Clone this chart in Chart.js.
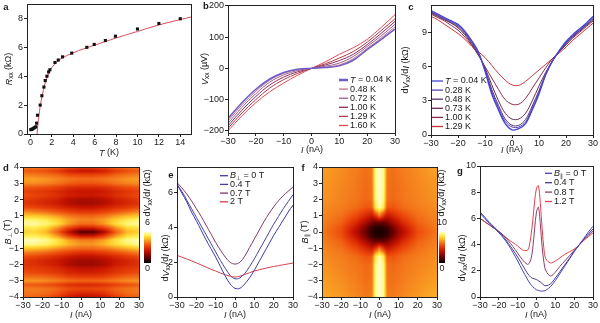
<!DOCTYPE html>
<html lang="en">
<head>
<meta charset="utf-8" />
<title>Transport panels a-g</title>
<script src="https://cdn.jsdelivr.net/npm/chart.js@4.4.1/dist/chart.umd.min.js"></script>
<style>
  body { margin: 0; background: #fff; }
  #page { position: relative; width: 600px; height: 323px; overflow: hidden; }
  #page canvas { position: absolute; }
</style>
</head>
<body>
<div id="page">
  <canvas id="ca"></canvas>
  <canvas id="cb"></canvas>
  <canvas id="cc"></canvas>
  <canvas id="cd"></canvas>
  <canvas id="ce"></canvas>
  <canvas id="cf"></canvas>
  <canvas id="cg"></canvas>
</div>
<script>
const FONT = '"Liberation Sans", Arial, Helvetica, sans-serif';

// ---- a: R_xx vs T ----
const aT = [0.03, 0.1, 0.2, 0.3, 0.4, 0.5, 0.57, 0.66, 0.91, 1.07, 1.26, 1.38, 1.54, 1.7, 1.82, 2.29, 2.6, 3.0, 3.86, 5.27, 5.96, 7.0, 7.94, 10, 12, 14];
const aR = [0.3, 0.32, 0.35, 0.4, 0.45, 0.5, 0.75, 1.3, 2.0, 2.65, 3.25, 3.7, 4.0, 4.3, 4.45, 4.95, 5.12, 5.34, 5.6, 6.0, 6.2, 6.47, 6.77, 7.27, 7.65, 7.98];
const aFitT = [0.62, 0.7, 0.8, 0.9, 1.0, 1.2, 1.4, 1.6, 1.8, 2.0, 2.5, 3, 4, 5, 6, 7, 8, 10, 12, 15];
const aFitR = [0, 0.7, 1.3, 1.85, 2.3, 3.0, 3.6, 4.0, 4.35, 4.6, 5.0, 5.28, 5.62, 5.9, 6.15, 6.4, 6.65, 7.1, 7.55, 8.1];
const aXTicks = [0, 2, 4, 6, 8, 10, 12, 14];
const aYTicks = [0, 2, 4, 6, 8];

// ---- b: V_xx vs I ----
const bTemps = ['0.04', '0.48', '0.72', '1.00', '1.29', '1.60'];
const bI = [-30, -25, -20, -15, -10, -5, 0, 5, 10, 15, 20, 25, 30];
const bV = [
  [-160, -110, -67, -34, -13, -3, 0, 3, 8, 26, 60, 92, 126],
  [-168, -117, -73, -38, -16, -4, 0, 4, 11, 31, 64, 97, 133],
  [-176, -125, -81, -44, -21, -7, 0, 7, 17, 38, 70, 104, 141],
  [-184, -134, -90, -53, -28, -11, 0, 11, 25, 45, 76, 112, 150],
  [-192, -143, -100, -63, -36, -16, 0, 15, 33, 54, 84, 121, 159],
  [-200, -152, -110, -75, -47, -22, 0, 21, 45, 66, 93, 131, 172]
];
const bYTicks = [-200, -100, 0, 100, 200];
const iTicks = [-30, -20, -10, 0, 10, 20, 30];

// ---- c: dV/dI vs I at several T ----
const cTemps = ['0.04', '0.28', '0.48', '0.73', '1.00', '1.29'];
const cI = [-30, -27.5, -25, -22.5, -20, -17.5, -15, -12.5, -10, -7.5, -5, -2.5, 0, 2.5, 5, 7.5, 10, 12.5, 15, 17.5, 20, 22.5, 25, 27.5, 30];
const cR = [
  [10.9, 10.6, 10.3, 10.0, 9.7, 9.1, 8.3, 7.3, 5.6, 3.6, 2.2, 1.0, 0.45, 0.55, 1.0, 2.2, 3.6, 5.3, 6.5, 7.4, 8.2, 8.8, 9.3, 9.8, 10.4],
  [10.8, 10.5, 10.2, 9.9, 9.6, 9.0, 8.2, 7.2, 5.7, 3.8, 2.4, 1.2, 0.7, 0.7, 1.15, 2.35, 3.75, 5.3, 6.5, 7.4, 8.1, 8.7, 9.2, 9.7, 10.3],
  [10.75, 10.45, 10.15, 9.85, 9.5, 8.9, 8.1, 7.15, 5.8, 4.0, 2.6, 1.4, 0.85, 0.85, 1.35, 2.55, 3.9, 5.35, 6.5, 7.35, 8.05, 8.65, 9.15, 9.65, 10.2],
  [10.7, 10.4, 10.1, 9.8, 9.4, 8.8, 8.0, 7.1, 5.9, 4.4, 3.0, 1.9, 1.4, 1.4, 1.9, 3.0, 4.3, 5.5, 6.5, 7.3, 8.0, 8.6, 9.1, 9.6, 10.1],
  [10.6, 10.3, 10.0, 9.6, 9.2, 8.6, 7.9, 7.0, 6.0, 5.0, 4.0, 3.1, 2.7, 2.7, 3.2, 4.1, 5.0, 5.9, 6.7, 7.3, 7.9, 8.5, 9.0, 9.5, 10.0],
  [10.4, 10.1, 9.7, 9.3, 8.9, 8.4, 7.8, 7.3, 6.8, 6.1, 5.4, 4.8, 4.4, 4.35, 4.7, 5.2, 5.7, 6.2, 6.7, 7.2, 7.7, 8.3, 8.8, 9.3, 9.8]
];
const cYTicks = [0, 3, 6, 9];

// ---- d: map dV/dI (I, B_perp) ----
const dI = [-30, -24, -18, -12, -6, 0, 6, 12, 18, 24, 30];
const dB = [4, 3.75, 3.5, 3.25, 3, 2.75, 2.5, 2.25, 2, 1.75, 1.5, 1.25, 1, 0.75, 0.5, 0.25, 0, -0.25, -0.5, -0.75, -1, -1.25, -1.5, -1.75, -2, -2.25, -2.5, -2.75, -3, -3.25, -3.5, -3.75, -4];
const dR = [
  [4.0, 4.0, 3.9, 3.7, 3.4, 3.2, 3.2, 3.4, 3.7, 3.9, 4.0],
  [3.6, 3.5, 3.4, 3.1, 2.6, 2.4, 2.4, 2.6, 3.1, 3.4, 3.6],
  [4.1, 4.0, 3.9, 3.7, 3.4, 3.3, 3.3, 3.4, 3.7, 3.9, 4.1],
  [4.4, 4.4, 4.3, 4.1, 3.9, 3.8, 3.8, 3.9, 4.1, 4.3, 4.4],
  [4.2, 4.2, 4.1, 3.9, 3.6, 3.5, 3.5, 3.6, 3.9, 4.1, 4.2],
  [3.6, 3.5, 3.4, 3.2, 2.9, 2.8, 2.8, 2.9, 3.2, 3.4, 3.6],
  [3.2, 3.1, 3.0, 2.8, 2.5, 2.4, 2.4, 2.5, 2.8, 3.0, 3.2],
  [3.4, 3.3, 3.1, 2.9, 2.6, 2.5, 2.5, 2.6, 2.9, 3.1, 3.4],
  [3.1, 3.0, 2.8, 2.6, 2.2, 2.0, 2.0, 2.2, 2.6, 2.8, 3.1],
  [3.0, 2.9, 2.7, 2.5, 2.1, 1.9, 1.9, 2.1, 2.5, 2.7, 3.0],
  [3.4, 3.3, 3.1, 2.9, 2.6, 2.4, 2.4, 2.6, 2.9, 3.1, 3.4],
  [4.1, 4.0, 3.8, 3.5, 3.2, 3.0, 3.0, 3.2, 3.5, 3.8, 4.1],
  [4.8, 4.8, 4.6, 4.3, 3.9, 3.7, 3.7, 3.9, 4.3, 4.6, 4.8],
  [5.5, 5.5, 5.3, 4.9, 4.4, 4.1, 4.1, 4.4, 4.9, 5.3, 5.5],
  [5.8, 5.8, 5.6, 5.1, 4.3, 3.8, 3.8, 4.3, 5.1, 5.6, 5.8],
  [5.2, 5.3, 5.0, 4.2, 3.2, 2.6, 2.6, 3.2, 4.2, 5.0, 5.2],
  [4.9, 5.0, 4.6, 3.6, 2.2, 0.9, 0.9, 2.0, 3.6, 4.6, 4.9],
  [5.3, 5.4, 5.1, 4.3, 3.2, 2.5, 2.5, 3.2, 4.3, 5.1, 5.3],
  [5.9, 5.9, 5.7, 5.2, 4.4, 4.0, 4.0, 4.4, 5.2, 5.7, 5.9],
  [5.7, 5.7, 5.5, 5.1, 4.6, 4.3, 4.3, 4.6, 5.1, 5.5, 5.7],
  [4.9, 4.8, 4.6, 4.3, 4.0, 3.8, 3.8, 4.0, 4.3, 4.6, 4.9],
  [4.1, 4.0, 3.8, 3.5, 3.2, 3.0, 3.0, 3.2, 3.5, 3.8, 4.1],
  [3.4, 3.3, 3.1, 2.8, 2.5, 2.3, 2.3, 2.5, 2.8, 3.1, 3.4],
  [3.0, 2.9, 2.7, 2.5, 2.1, 1.9, 1.9, 2.1, 2.5, 2.7, 3.0],
  [3.0, 2.9, 2.7, 2.5, 2.0, 1.8, 1.8, 2.0, 2.5, 2.7, 3.0],
  [3.2, 3.1, 3.0, 2.8, 2.5, 2.3, 2.3, 2.5, 2.8, 3.0, 3.2],
  [3.4, 3.3, 3.2, 3.0, 2.7, 2.6, 2.6, 2.7, 3.0, 3.2, 3.4],
  [3.8, 3.8, 3.7, 3.5, 3.2, 3.1, 3.1, 3.2, 3.5, 3.7, 3.8],
  [4.3, 4.3, 4.2, 4.0, 3.8, 3.7, 3.7, 3.8, 4.0, 4.2, 4.3],
  [3.6, 3.5, 3.4, 3.2, 2.9, 2.8, 2.8, 2.9, 3.2, 3.4, 3.6],
  [4.0, 4.0, 3.9, 3.7, 3.4, 3.3, 3.3, 3.4, 3.7, 3.9, 4.0],
  [3.9, 3.9, 3.8, 3.5, 3.0, 2.8, 2.8, 3.0, 3.5, 3.8, 3.9],
  [3.7, 3.7, 3.5, 3.1, 2.5, 2.3, 2.3, 2.5, 3.1, 3.5, 3.7]
];
const dBarTicks = [0, 6];
const fieldTicks = [-4, -3, -2, -1, 0, 1, 2, 3, 4];

// ---- e: dV/dI vs I at several B_perp ----
const eFields = ['0', '0.4', '0.7', '2'];
const eI = [-30, -27.5, -25, -22.5, -20, -17.5, -15, -12.5, -10, -7.5, -5, -2.5, 0, 2.5, 5, 7.5, 10, 12.5, 15, 17.5, 20, 22.5, 25, 27.5, 30];
const eR = [
  [6.5, 6.0, 5.5, 4.9, 4.4, 3.85, 3.3, 2.8, 2.3, 1.75, 1.2, 0.75, 0.5, 0.5, 0.75, 1.1, 1.55, 2.05, 2.55, 3.05, 3.55, 4.0, 4.45, 4.9, 5.3],
  [6.5, 6.1, 5.6, 5.1, 4.6, 4.1, 3.6, 3.1, 2.6, 2.1, 1.65, 1.25, 1.05, 1.1, 1.35, 1.75, 2.2, 2.7, 3.2, 3.7, 4.2, 4.65, 5.1, 5.5, 5.9],
  [6.6, 6.3, 5.95, 5.55, 5.1, 4.65, 4.15, 3.65, 3.15, 2.7, 2.3, 2.0, 1.9, 2.0, 2.35, 2.85, 3.35, 3.85, 4.35, 4.8, 5.2, 5.55, 5.85, 6.1, 6.35],
  [2.4, 2.3, 2.2, 2.08, 1.97, 1.85, 1.73, 1.6, 1.5, 1.38, 1.28, 1.2, 1.15, 1.2, 1.3, 1.4, 1.5, 1.57, 1.64, 1.7, 1.76, 1.81, 1.86, 1.91, 1.96]
];
const eYTicks = [0, 2, 4, 6];

// ---- f: map dV/dI (I, B_par) ----
const fI = [-30, -20, -12, -7, -4, -2, 0, 2, 4, 7, 12, 20, 30];
const fB = [4, 3, 2, 1.5, 1, 0.6, 0.3, 0, -0.3, -0.6, -1, -1.5, -2, -3, -4];
const fR = [
  [7.3, 7.0, 6.7, 6.4, 6.6, 9.6, 10, 9.6, 6.6, 6.4, 6.7, 7.0, 7.4],
  [7.2, 6.9, 6.6, 6.3, 6.5, 9.6, 10, 9.6, 6.5, 6.3, 6.6, 6.9, 7.2],
  [7.1, 6.8, 6.5, 6.2, 6.4, 9.4, 10, 9.4, 6.4, 6.2, 6.5, 6.8, 7.1],
  [7.0, 6.7, 6.3, 5.8, 5.9, 8.8, 9.8, 8.8, 5.9, 5.8, 6.3, 6.7, 7.0],
  [6.9, 6.4, 5.5, 4.6, 4.0, 5.0, 6.5, 5.0, 4.0, 4.6, 5.5, 6.4, 6.9],
  [6.8, 6.1, 4.7, 3.3, 2.3, 2.0, 2.2, 2.0, 2.3, 3.3, 4.7, 6.1, 6.8],
  [6.7, 5.8, 4.0, 2.3, 1.2, 0.8, 0.7, 0.8, 1.2, 2.3, 4.0, 5.8, 6.7],
  [6.6, 5.6, 3.6, 1.8, 0.8, 0.5, 0.4, 0.5, 0.8, 1.8, 3.6, 5.6, 6.6],
  [6.7, 5.8, 4.0, 2.3, 1.2, 0.8, 0.7, 0.8, 1.2, 2.3, 4.0, 5.8, 6.7],
  [6.8, 6.1, 4.7, 3.3, 2.3, 2.0, 2.2, 2.0, 2.3, 3.3, 4.7, 6.1, 6.8],
  [6.9, 6.4, 5.5, 4.6, 4.0, 5.0, 6.5, 5.0, 4.0, 4.6, 5.5, 6.4, 6.9],
  [7.0, 6.7, 6.3, 5.8, 5.9, 8.8, 9.8, 8.8, 5.9, 5.8, 6.3, 6.7, 7.0],
  [7.1, 6.8, 6.5, 6.2, 6.4, 9.4, 10, 9.4, 6.4, 6.2, 6.5, 6.8, 7.1],
  [7.3, 7.0, 6.7, 6.4, 6.5, 9.6, 10, 9.6, 6.5, 6.4, 6.7, 7.0, 7.3],
  [7.5, 7.2, 6.9, 6.6, 6.7, 9.6, 10, 9.6, 6.7, 6.6, 6.9, 7.2, 7.6]
];
const fBarTicks = [0, 10];

// ---- g: dV/dI vs I at several B_par ----
const gFields = ['0', '0.4', '0.8', '1.2'];
const gI = [-30, -27.5, -25, -22.5, -20, -17.5, -15, -12.5, -10, -7.5, -5, -4, -3, -2, -1, 0, 1, 2, 3, 4, 5, 7.5, 10, 12.5, 15, 17.5, 20, 22.5, 25, 27.5, 30];
const gR = [
  [6.4, 6.0, 5.6, 5.25, 4.9, 4.5, 4.0, 3.4, 2.75, 2.05, 1.4, 1.15, 0.95, 0.8, 0.65, 0.55, 0.5, 0.45, 0.45, 0.47, 0.52, 0.8, 1.25, 1.8, 2.35, 2.9, 3.45, 3.95, 4.45, 4.95, 5.4],
  [6.5, 6.1, 5.7, 5.35, 5.0, 4.6, 4.1, 3.6, 3.05, 2.45, 1.85, 1.65, 1.5, 1.42, 1.38, 1.33, 1.25, 1.15, 1.02, 0.9, 0.85, 1.0, 1.45, 1.95, 2.45, 2.95, 3.5, 3.95, 4.4, 4.8, 5.2],
  [6.0, 5.75, 5.5, 5.25, 5.0, 4.7, 4.3, 3.85, 3.35, 2.85, 2.5, 2.55, 2.85, 3.7, 5.2, 6.5, 6.85, 5.6, 3.8, 2.6, 2.0, 1.6, 1.9, 2.35, 2.75, 3.15, 3.55, 3.95, 4.35, 4.7, 5.05],
  [6.0, 5.75, 5.5, 5.25, 5.0, 4.7, 4.4, 4.15, 3.9, 3.6, 3.55, 3.8, 4.6, 5.8, 7.3, 8.3, 8.5, 7.2, 5.2, 3.6, 2.9, 2.6, 2.75, 3.0, 3.25, 3.45, 3.65, 3.95, 4.3, 4.6, 4.9]
];
const gYTicks = [0, 2, 4, 6, 8, 10];

// colour map for both maps (fraction of full scale -> rgb)
const heatStops = [[0, [0, 0, 0]], [0.2, [110, 0, 0]], [0.4, [200, 20, 0]], [0.55, [235, 70, 10]], [0.68, [245, 130, 30]], [0.8, [255, 200, 40]], [0.9, [255, 240, 90]], [1, [255, 255, 200]]];

function cmap(f) {
  f = Math.max(0, Math.min(1, f));
  for (let k = 0; k < heatStops.length - 1; k++) {
    const [f0, c0] = heatStops[k], [f1, c1] = heatStops[k + 1];
    if (f <= f1) {
      const t = (f - f0) / (f1 - f0);
      return c0.map((v, n) => Math.round(v + (c1[n] - v) * t));
    }
  }
  return heatStops[heatStops.length - 1][1];
}

function seg(arr, v) {
  for (let i = 0; i < arr.length - 1; i++) {
    const a = arr[i], b = arr[i + 1];
    if ((v - a) * (v - b) <= 0) return [i, (v - a) / (b - a)];
  }
  return Math.abs(v - arr[0]) < Math.abs(v - arr[arr.length - 1]) ? [0, 0] : [arr.length - 2, 1];
}

function bilerp(cols, rows, z, x, y) {
  const [i, tx] = seg(cols, x), [j, ty] = seg(rows, y);
  const top = z[j][i] * (1 - tx) + z[j][i + 1] * tx;
  const bot = z[j + 1][i] * (1 - tx) + z[j + 1][i + 1] * tx;
  return top * (1 - ty) + bot * ty;
}

// text with italic ('i'), subscript ('s') and bold ('b') pieces
function drawRich(ctx, parts, x, y, size, rot, align) {
  ctx.save();
  ctx.translate(x, y);
  if (rot) ctx.rotate(rot);
  const fnt = f => (f.includes('b') ? 'bold ' : '') + (f.includes('i') ? 'italic ' : '') + (f.includes('s') ? size * 0.72 : size) + 'px ' + FONT;
  let w = 0;
  parts.forEach(([t, f = '']) => { ctx.font = fnt(f); w += ctx.measureText(t).width; });
  let cx = align === 'left' ? 0 : -w / 2;
  ctx.textBaseline = 'middle';
  ctx.textAlign = 'left';
  ctx.fillStyle = '#1a1a1a';
  parts.forEach(([t, f = '']) => {
    ctx.font = fnt(f);
    ctx.fillText(t, cx, f.includes('s') ? size * 0.3 : 0);
    cx += ctx.measureText(t).width;
  });
  ctx.restore();
}

const panels = {};

const decoPlugin = {
  id: 'deco',
  afterDraw(chart) {
    const p = panels[chart.canvas.id];
    const { ctx, chartArea: ca } = chart;
    ctx.save();
    ctx.strokeStyle = '#222';
    ctx.lineWidth = 1;
    const l = Math.round(ca.left) + 0.5, t = Math.round(ca.top) + 0.5;
    ctx.strokeRect(l, t, Math.round(ca.right) - Math.round(ca.left), Math.round(ca.bottom) - Math.round(ca.top));
    if (p.legend) {
      const L = p.legend;
      chart.data.datasets.forEach((ds, k) => {
        const x = L.x - p.ox, y = L.y + k * L.dy - p.oy;
        ctx.strokeStyle = ds.borderColor;
        ctx.lineWidth = k === 0 && L.w0 ? L.w0 : 1.3;
        ctx.beginPath();
        ctx.moveTo(x, y);
        ctx.lineTo(x + L.len, y);
        ctx.stroke();
        drawRich(ctx, L.names[k], x + L.len + 2, y, 9, 0, 'left');
      });
    }
    (p.texts || []).forEach(tx => drawRich(ctx, tx.p, tx.x - p.ox, tx.y - p.oy, tx.s || 9, tx.r || 0));
    ctx.restore();
  }
};

const heatPlugin = {
  id: 'heat',
  beforeDatasetsDraw(chart) {
    const h = panels[chart.canvas.id].heat;
    const { ctx, chartArea: ca, scales } = chart;
    const x0 = Math.round(ca.left), y0 = Math.round(ca.top);
    const w = Math.round(ca.right) - x0, ht = Math.round(ca.bottom) - y0;
    const off = document.createElement('canvas');
    off.width = w; off.height = ht;
    const octx = off.getContext('2d');
    const img = octx.createImageData(w, ht);
    for (let j = 0; j < ht; j++) {
      const b = scales.y.getValueForPixel(y0 + j + 0.5);
      for (let i = 0; i < w; i++) {
        const c = cmap(bilerp(h.cols, h.rows, h.z, scales.x.getValueForPixel(x0 + i + 0.5), b) / h.ticks[1]);
        const k = (j * w + i) * 4;
        img.data[k] = c[0]; img.data[k + 1] = c[1]; img.data[k + 2] = c[2]; img.data[k + 3] = 255;
      }
    }
    octx.putImageData(img, 0, 0);
    ctx.drawImage(off, x0, y0);
  },
  afterDraw(chart) {
    const p = panels[chart.canvas.id], h = p.heat;
    const ctx = chart.ctx;
    const [bx, by, bw, bh] = h.bar;
    const x = bx - p.ox, y = by - p.oy;
    const g = ctx.createLinearGradient(0, y + bh, 0, y);
    heatStops.forEach(([f, c]) => g.addColorStop(f, 'rgb(' + c.join(',') + ')'));
    ctx.fillStyle = g;
    ctx.fillRect(x, y, bw, bh);
    drawRich(ctx, [[String(h.ticks[1])]], x + bw / 2, y - 9, 9);
    drawRich(ctx, [[String(h.ticks[0])]], x + bw / 2, y + bh + 6, 9);
    drawRich(ctx, dvdi, x + bw / 2, y - 39, 9, -Math.PI / 2);
  }
};

const dvdi = [['d'], ['V', 'i'], ['xx', 's'], ['/d'], ['I', 'i'], [' (k\u03a9)']];
const curAxis = [['I', 'i'], [' (nA)']];

function line(xs, ys, color, w) {
  return {
    data: xs.map((x, i) => ({ x, y: ys[i] })),
    showLine: true, borderColor: color, backgroundColor: color,
    borderWidth: w || 1, pointRadius: 0, tension: 0.35
  };
}

function makePanel(id, box, area, spec) {
  const cv = document.getElementById(id);
  cv.width = box[2]; cv.height = box[3];
  cv.style.left = box[0] + 'px'; cv.style.top = box[1] + 'px';
  panels[id] = Object.assign({ ox: box[0], oy: box[1] }, spec);
  const padL = area[0] - box[0], padT = area[1] - box[1];
  const padR = box[0] + box[2] - area[2], padB = box[1] + box[3] - area[3];
  const axis = (a, isX) => ({
    type: 'linear', min: a.min, max: a.max,
    border: { color: '#222', width: 1 },
    grid: { drawOnChartArea: false, tickLength: 3, color: '#222' },
    ticks: {
      font: { size: 9, family: FONT }, color: '#1a1a1a', padding: isX ? 0 : 1,
      maxRotation: 0, autoSkip: false,
      callback: v => String(v).replace('-', '\u2212')
    },
    afterBuildTicks: s => { s.ticks = a.ticks.map(v => ({ value: v })); },
    afterFit: s => {
      if (isX) s.height = padB; else s.width = padL;
      s.paddingLeft = s.paddingRight = s.paddingTop = s.paddingBottom = 0;
    }
  });
  return new Chart(cv, {
    type: 'scatter',
    data: { datasets: spec.datasets || [] },
    options: {
      responsive: false, animation: false, events: [],
      layout: { padding: { left: 0, top: padT, right: padR, bottom: 0 } },
      scales: { x: axis(spec.x, true), y: axis(spec.y, false) },
      plugins: { legend: { display: false }, tooltip: { enabled: false } }
    },
    plugins: spec.heat ? [heatPlugin, decoPlugin] : [decoPlugin]
  });
}

const tempNames = ts => ts.map((t, k) => k === 0 ? [['T', 'i'], [' = ' + t + ' K']] : [[t + ' K']]);
const fieldNames = (fs, sym) => fs.map((f, k) => k === 0 ? [['B', 'i'], [sym, 's'], [' = ' + f + ' T']] : [[f + ' T']]);

// a
makePanel('ca', [0, 0, 198, 160], [27, 4, 191, 134], {
  x: { min: -0.32, max: 15, ticks: aXTicks },
  y: { min: 0, max: 9, ticks: aYTicks },
  datasets: [
    { data: aT.map((x, i) => ({ x, y: aR[i] })), pointStyle: 'rect', pointRadius: 2.2, backgroundColor: '#111', borderColor: '#111', borderWidth: 0 },
    line(aFitT, aFitR, '#d9505e', 1)
  ],
  texts: [
    { p: [['a', 'b']], x: 6, y: 7, s: 9.5 },
    { p: [['R', 'i'], ['xx', 's'], [' (k\u03a9)']], x: 9, y: 69, r: -Math.PI / 2 },
    { p: [['T', 'i'], [' (K)']], x: 109, y: 153 }
  ]
});

// b
const bColors = ['#6e5cc8', '#c46e8e', '#9c5e8e', '#88305a', '#b03a4c', '#dc4a55'];
makePanel('cb', [198, 0, 202, 160], [228, 5, 395, 133], {
  x: { min: -30, max: 30, ticks: iTicks },
  y: { min: -207, max: 203, ticks: bYTicks },
  datasets: bV.map((v, k) => line(bI, v, bColors[k], k === 0 ? 1.5 : 1)),
  legend: { x: 339, y: 80, dy: 9.1, len: 9, w0: 2.5, names: tempNames(bTemps) },
  texts: [
    { p: [['b', 'b']], x: 206, y: 6, s: 9.5 },
    { p: [['V', 'i'], ['xx', 's'], [' (\u00b5V)']], x: 205, y: 69, r: -Math.PI / 2 },
    { p: curAxis, x: 312, y: 150 }
  ]
});

// c
const cColors = ['#4646d2', '#5a44b4', '#583672', '#6a2c58', '#8c2a44', '#c8303e'];
makePanel('cc', [400, 0, 200, 160], [431, 5, 593, 135], {
  x: { min: -30, max: 30, ticks: iTicks },
  y: { min: 0, max: 11.4, ticks: cYTicks },
  datasets: cR.map((v, k) => line(cI, v, cColors[k], k === 0 ? 1.4 : 1)),
  legend: { x: 432, y: 81, dy: 9.1, len: 11, names: tempNames(cTemps) },
  texts: [
    { p: [['c', 'b']], x: 411, y: 7, s: 9.5 },
    { p: dvdi, x: 406, y: 70, r: -Math.PI / 2 },
    { p: curAxis, x: 512, y: 150 }
  ]
});

// d
makePanel('cd', [0, 160, 160, 163], [23, 167, 139, 297], {
  x: { min: -30, max: 30, ticks: iTicks },
  y: { min: -4, max: 4, ticks: fieldTicks },
  heat: { cols: dI, rows: dB, z: dR, ticks: dBarTicks, bar: [144, 232, 7, 31] },
  texts: [
    { p: [['d', 'b']], x: 6, y: 168, s: 9.5 },
    { p: [['B', 'i'], ['\u22a5', 's'], [' (T)']], x: 8, y: 232, r: -Math.PI / 2 },
    { p: curAxis, x: 81, y: 315 }
  ]
});

// e
const eColors = ['#3a3aa6', '#46409a', '#7e3a66', '#d5404e'];
makePanel('ce', [160, 160, 140, 163], [177, 167, 293, 297], {
  x: { min: -30, max: 30, ticks: iTicks },
  y: { min: 0, max: 7.5, ticks: eYTicks },
  datasets: eR.map((v, k) => line(eI, v, eColors[k], 1)),
  legend: { x: 220, y: 175.7, dy: 8.7, len: 8, names: fieldNames(eFields, '\u22a5') },
  texts: [
    { p: [['e', 'b']], x: 171, y: 175, s: 9.5 },
    { p: dvdi, x: 166, y: 258, r: -Math.PI / 2 },
    { p: curAxis, x: 235, y: 315 }
  ]
});

// f
makePanel('cf', [300, 160, 152, 163], [322, 167, 437, 297], {
  x: { min: -30, max: 30, ticks: iTicks },
  y: { min: -4, max: 4, ticks: fieldTicks },
  heat: { cols: fI, rows: fB, z: fR, ticks: fBarTicks, bar: [439, 232, 6, 31] },
  texts: [
    { p: [['f', 'b']], x: 303, y: 168, s: 9.5 },
    { p: [['B', 'i'], ['\u2225', 's'], [' (T)']], x: 305, y: 232, r: -Math.PI / 2 },
    { p: curAxis, x: 380, y: 315 }
  ]
});

// g
const gColors = ['#4444b8', '#4a3c8c', '#8c3e6c', '#e0404e'];
makePanel('cg', [452, 160, 148, 163], [480, 166, 593, 297], {
  x: { min: -30, max: 30, ticks: iTicks },
  y: { min: 0, max: 10, ticks: gYTicks },
  datasets: gR.map((v, k) => line(gI, v, gColors[k], 1)),
  legend: { x: 545, y: 173.3, dy: 9.4, len: 7, names: fieldNames(gFields, '\u2225') },
  texts: [
    { p: [['g', 'b']], x: 460, y: 171, s: 9.5 },
    { p: dvdi, x: 463, y: 258, r: -Math.PI / 2 },
    { p: curAxis, x: 536, y: 315 }
  ]
});
</script>
</body>
</html>
